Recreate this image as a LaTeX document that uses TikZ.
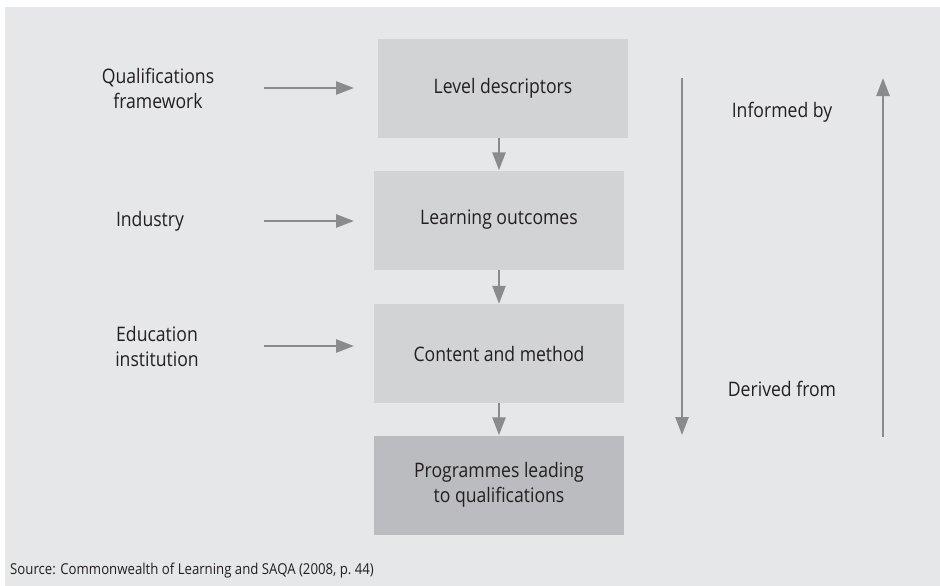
\documentclass[tikz,border=0pt]{standalone}
\usepackage{fontspec}
\setmainfont[FakeStretch=0.88]{Open Sans}
\usetikzlibrary{arrows.meta}
\definecolor{panel}{HTML}{E6E7E9}
\definecolor{boxfill}{HTML}{D2D3D5}
\definecolor{boxdark}{HTML}{BBBCBF}
\definecolor{arrowgray}{HTML}{8A8B8D}
\definecolor{ink}{HTML}{231F20}
\begin{document}
\begin{tikzpicture}[x=1pt,y=-1pt,
  every node/.style={text=ink,font=\fontsize{20}{25}\selectfont},
  stagebox/.style={fill=boxfill,minimum width=250pt,minimum height=99pt,inner sep=0pt,align=center},
  darkbox/.style={stagebox,fill=boxdark},
  sidelabel/.style={align=center,inner sep=0pt},
  flow/.style={draw=arrowgray,line width=2.6pt,-{Triangle[length=18pt,width=13pt]}}]
\useasboundingbox (0,0) rectangle (940,586);
\fill[panel] (5,7) rectangle (940,586);

% main chain of stages
\node[stagebox] (lvl) at (503,88.5) {Level descriptors};
\node[stagebox] (lo)  at (499,220) {Learning outcomes};
\node[stagebox] (cm)  at (499,353.5) {Content and method};
\node[darkbox]  (pq)  at (499,485) {Programmes leading\\to qualifications};

\draw[flow] (lvl.south -| lo.north) -- (lo.north);
\draw[flow] (lo.south) -- (cm.north);
\draw[flow] (cm.south) -- (pq.north);

% inputs on the left
\node[sidelabel] (qf)  at (158,88) {Qualifications\\framework};
\node[sidelabel] (ind) at (150,221) {Industry};
\node[sidelabel] (edu) at (157,346) {Education\\institution};
\coordinate (qfs)  at (264,88);
\coordinate (inds) at (264,221);
\coordinate (edus) at (264,346);
\coordinate (qfe)  at (354,88);
\coordinate (inde) at (354,221);
\coordinate (edue) at (354,346);
\draw[flow] (qfs) -- (qfe);
\draw[flow] (inds) -- (inde);
\draw[flow] (edus) -- (edue);

% direction arrows on the right
\coordinate (dtop) at (682,78);
\coordinate (dbot) at (682,435);
\coordinate (ubot) at (883,437);
\coordinate (utop) at (883,78);
\draw[flow] (dtop) -- (dbot);
\draw[flow] (ubot) -- (utop);
\node (inf) at (782,112) {Informed by};
\node (der) at (782,389) {Derived from};

\node[anchor=base west,inner sep=0pt,font=\fontsize{15}{18}\selectfont] (src) at (10,574)
  {Source: Commonwealth of Learning and SAQA (2008, p.~44)};
\end{tikzpicture}
\end{document}
